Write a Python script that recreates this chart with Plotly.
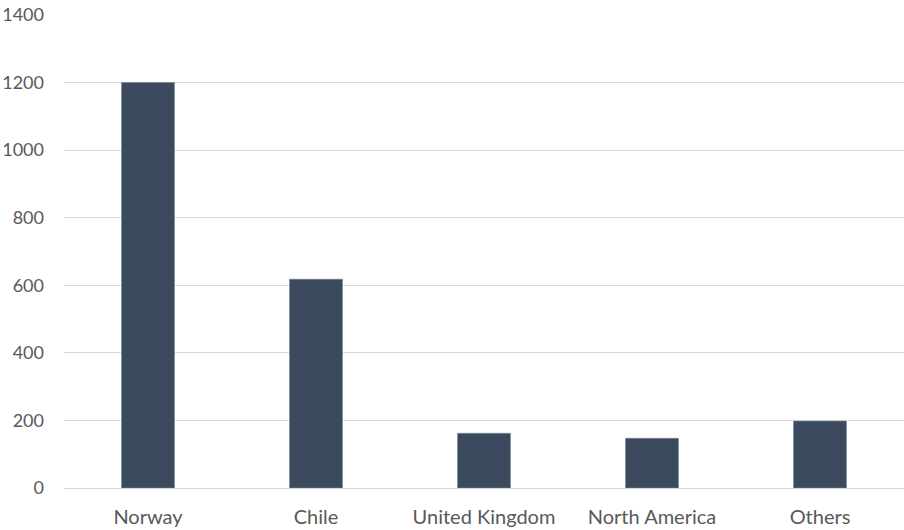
import plotly.graph_objects as go

# Salmon production by region
regions = ["Norway", "Chile", "United Kingdom", "North America", "Others"]
volumes = [1200, 618, 162, 147, 198]
y_ticks = [0, 200, 400, 600, 800, 1000, 1200, 1400]

fig = go.Figure(
    go.Bar(
        x=regions,
        y=volumes,
        marker=dict(color="#3b4a5e", line=dict(color="#7a8593", width=0.6)),
        width=0.315,
        hoverinfo="x+y",
    )
)

font_family = "Lato, Open Sans, sans-serif"

fig.update_layout(
    width=904,
    height=530,
    margin=dict(l=64, r=0, t=15, b=42),
    paper_bgcolor="white",
    plot_bgcolor="white",
    showlegend=False,
    font=dict(family=font_family, size=18, color="#595959"),
)

fig.update_xaxes(
    showgrid=False,
    showline=False,
    ticks="",
    tickfont=dict(size=20, color="#595959"),
    ticklabelstandoff=15,
    range=[-0.5, 4.5],
)

fig.update_yaxes(
    range=[0, 1400],
    tickvals=y_ticks,
    showgrid=True,
    gridcolor="#d9d9d9",
    gridwidth=1,
    zeroline=True,
    zerolinecolor="#d9d9d9",
    zerolinewidth=1,
    showline=False,
    ticks="",
    tickfont=dict(size=18, color="#595959"),
    ticklabelstandoff=19,
)

fig.write_html("out.html")
